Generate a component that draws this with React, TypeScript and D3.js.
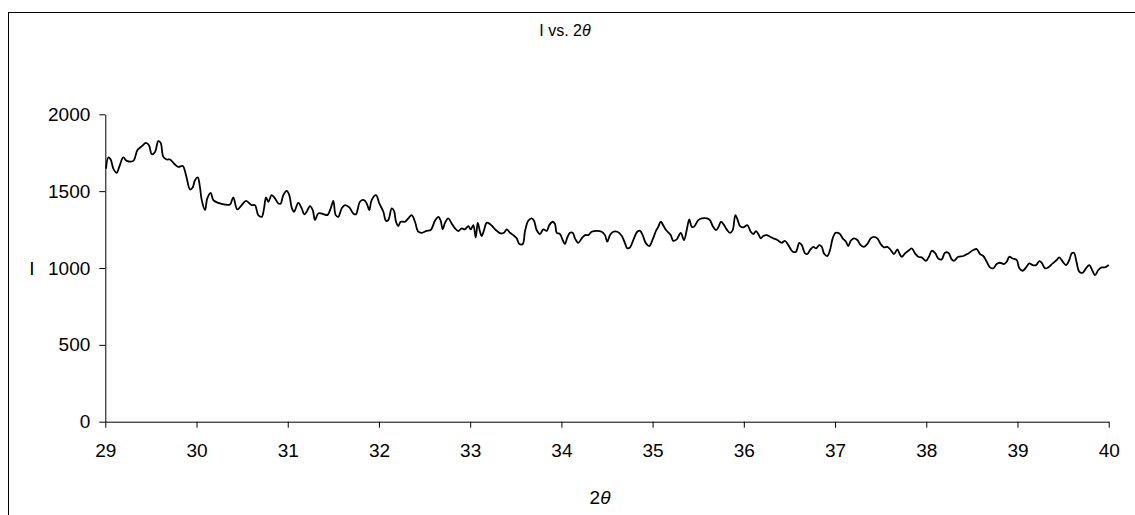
import React, { useEffect, useRef } from 'react';
import * as d3 from 'd3';

// 2theta (deg) and intensity
const twoTheta = [
  29.008, 29.033, 29.059, 29.088, 29.125, 29.153, 29.197, 29.235, 29.307, 29.351, 29.399, 29.446, 29.479, 29.509,
  29.545, 29.581, 29.607, 29.636, 29.673, 29.709, 29.753, 29.8, 29.849, 29.885, 29.929, 29.958, 29.983, 30.013,
  30.038, 30.057, 30.093, 30.118, 30.156, 30.184, 30.239, 30.312, 30.367, 30.403, 30.447, 30.495, 30.543, 30.605,
  30.641, 30.677, 30.715, 30.74, 30.762, 30.787, 30.824, 30.86, 30.897, 30.923, 30.951, 30.989, 31.017, 31.043,
  31.069, 31.116, 31.153, 31.182, 31.208, 31.244, 31.274, 31.299, 31.335, 31.39, 31.434, 31.471, 31.5, 31.526,
  31.554, 31.592, 31.628, 31.675, 31.719, 31.748, 31.792, 31.836, 31.866, 31.894, 31.92, 31.968, 32.004, 32.048,
  32.077, 32.102, 32.14, 32.165, 32.187, 32.212, 32.238, 32.286, 32.322, 32.359, 32.395, 32.431, 32.469, 32.523,
  32.567, 32.614, 32.651, 32.677, 32.699, 32.724, 32.76, 32.797, 32.834, 32.87, 32.907, 32.943, 32.979, 33.006,
  33.034, 33.061, 33.083, 33.108, 33.126, 33.152, 33.181, 33.217, 33.254, 33.291, 33.335, 33.371, 33.401, 33.437,
  33.473, 33.51, 33.539, 33.576, 33.601, 33.637, 33.675, 33.7, 33.729, 33.765, 33.802, 33.839, 33.867, 33.905,
  33.93, 33.949, 33.985, 34.014, 34.039, 34.065, 34.094, 34.124, 34.149, 34.185, 34.223, 34.259, 34.295, 34.332,
  34.387, 34.442, 34.478, 34.503, 34.533, 34.569, 34.613, 34.662, 34.698, 34.723, 34.753, 34.788, 34.832, 34.862,
  34.891, 34.927, 34.964, 35.001, 35.037, 35.062, 35.089, 35.125, 35.155, 35.198, 35.227, 35.264, 35.308, 35.344,
  35.374, 35.402, 35.429, 35.454, 35.501, 35.538, 35.622, 35.659, 35.695, 35.72, 35.75, 35.783, 35.812, 35.849,
  35.878, 35.907, 35.933, 35.958, 35.994, 36.038, 36.076, 36.104, 36.134, 36.159, 36.185, 36.213, 36.251, 36.287,
  36.323, 36.367, 36.415, 36.451, 36.488, 36.536, 36.572, 36.608, 36.635, 36.671, 36.696, 36.726, 36.762, 36.792,
  36.827, 36.854, 36.879, 36.915, 36.945, 36.974, 37.007, 37.047, 37.084, 37.12, 37.145, 37.172, 37.207, 37.244,
  37.281, 37.317, 37.354, 37.391, 37.427, 37.463, 37.5, 37.537, 37.573, 37.61, 37.646, 37.683, 37.705, 37.731,
  37.767, 37.803, 37.841, 37.877, 37.913, 37.95, 37.997, 38.033, 38.06, 38.096, 38.132, 38.169, 38.205, 38.242,
  38.279, 38.304, 38.351, 38.406, 38.461, 38.516, 38.553, 38.589, 38.625, 38.663, 38.699, 38.735, 38.772, 38.808,
  38.852, 38.882, 38.91, 38.948, 38.992, 39.02, 39.058, 39.094, 39.13, 39.167, 39.203, 39.24, 39.266, 39.302,
  39.338, 39.386, 39.43, 39.458, 39.496, 39.532, 39.568, 39.594, 39.619, 39.649, 39.677, 39.714, 39.751, 39.787,
  39.815, 39.85, 39.886, 39.923, 39.959, 40.0,
];

const intensity = [
  1647, 1719, 1706, 1647, 1619, 1658, 1719, 1697, 1697, 1766, 1792, 1814, 1799, 1740,
  1755, 1825, 1814, 1723, 1706, 1706, 1680, 1658, 1664, 1604, 1511, 1524, 1571, 1589,
  1524, 1442, 1377, 1453, 1489, 1442, 1424, 1413, 1413, 1459, 1381, 1409, 1437, 1409,
  1409, 1344, 1333, 1388, 1459, 1431, 1474, 1453, 1420, 1420, 1474, 1502, 1474, 1394,
  1366, 1424, 1388, 1349, 1366, 1403, 1377, 1312, 1355, 1351, 1344, 1388, 1437, 1344,
  1333, 1388, 1409, 1394, 1355, 1349, 1431, 1442, 1420, 1377, 1442, 1474, 1420, 1366,
  1307, 1312, 1388, 1372, 1301, 1273, 1301, 1301, 1323, 1344, 1301, 1236, 1229, 1242,
  1247, 1307, 1333, 1307, 1251, 1294, 1323, 1290, 1258, 1240, 1258, 1251, 1273, 1251,
  1279, 1199, 1294, 1236, 1208, 1247, 1294, 1286, 1264, 1242, 1225, 1229, 1251, 1229,
  1214, 1193, 1156, 1156, 1240, 1307, 1323, 1307, 1247, 1221, 1251, 1242, 1279, 1301,
  1286, 1229, 1221, 1182, 1156, 1199, 1229, 1229, 1193, 1164, 1193, 1214, 1214, 1236,
  1242, 1236, 1214, 1171, 1214, 1236, 1236, 1208, 1160, 1128, 1134, 1182, 1236, 1242,
  1214, 1160, 1143, 1186, 1242, 1268, 1301, 1268, 1242, 1214, 1177, 1186, 1229, 1182,
  1247, 1316, 1268, 1268, 1312, 1323, 1316, 1273, 1247, 1264, 1301, 1279, 1251, 1229,
  1247, 1344, 1312, 1273, 1264, 1279, 1236, 1221, 1240, 1221, 1193, 1208, 1214, 1203,
  1193, 1182, 1164, 1177, 1149, 1106, 1106, 1164, 1149, 1095, 1091, 1117, 1138, 1128,
  1149, 1138, 1095, 1078, 1117, 1193, 1229, 1225, 1193, 1171, 1143, 1177, 1193, 1182,
  1149, 1138, 1156, 1193, 1203, 1193, 1156, 1134, 1138, 1117, 1091, 1121, 1095, 1073,
  1095, 1112, 1128, 1095, 1073, 1069, 1047, 1078, 1112, 1099, 1062, 1056, 1099, 1099,
  1056, 1047, 1073, 1078, 1095, 1117, 1123, 1091, 1078, 1041, 1004, 998, 1026, 1034,
  1026, 1041, 1073, 1062, 1052, 998, 982, 1004, 1030, 1019, 1019, 1045, 1034, 998,
  1004, 1030, 1052, 1069, 1041, 1019, 1052, 1095, 1099, 1034, 976, 969, 998, 1019,
  991, 954, 987, 1004, 1004, 1019,
];

const xTicks = [29, 30, 31, 32, 33, 34, 35, 36, 37, 38, 39, 40];
const yTicks = [0, 500, 1000, 1500, 2000];

const App = () => {
  const svgRef = useRef<SVGSVGElement>(null);

  useEffect(() => {
    const svg = d3.select(svgRef.current);
    svg.selectAll('*').remove();

    const font = '"Liberation Sans", Arial, sans-serif';
    const left = 105.3, right = 1108.7, top = 114.3, bottom = 421.7;

    const x = d3.scaleLinear().domain([29, 40]).range([left, right]);
    const y = d3.scaleLinear().domain([0, 2000]).range([bottom, top]);

    // chart frame
    svg.append('rect')
      .attr('x', 8.5).attr('y', 12.5)
      .attr('width', 1200).attr('height', 600)
      .attr('fill', 'white').attr('stroke', 'black').attr('stroke-width', 1);

    const xAxis = svg.append('g')
      .attr('transform', `translate(0,${bottom})`)
      .call(d3.axisBottom(x).tickValues(xTicks).tickFormat(d3.format('d')).tickSize(6).tickSizeOuter(0).tickPadding(16));
    const yAxis = svg.append('g')
      .attr('transform', `translate(${left},0)`)
      .call(d3.axisLeft(y).tickValues(yTicks).tickFormat(d3.format('d')).tickSize(6).tickSizeOuter(0).tickPadding(9));

    [xAxis, yAxis].forEach(g => {
      g.selectAll('path, line').attr('stroke', 'black').attr('stroke-width', 1);
      g.selectAll('text').attr('font-family', font).attr('font-size', 19).attr('fill', 'black');
    });

    const line = d3.line<number>()
      .x((_, i) => x(twoTheta[i]))
      .y(d => y(d))
      .curve(d3.curveCatmullRom.alpha(0.5));

    svg.append('path')
      .datum(intensity)
      .attr('d', line)
      .attr('fill', 'none')
      .attr('stroke', 'black')
      .attr('stroke-width', 1.8)
      .attr('stroke-linejoin', 'round');

    // title
    const title = svg.append('text')
      .attr('x', 565).attr('y', 36)
      .attr('text-anchor', 'middle')
      .attr('font-family', font).attr('font-size', 16);
    title.append('tspan').text('I vs. 2');
    title.append('tspan').attr('font-style', 'italic').text('θ');

    // axis titles
    const xl = svg.append('text')
      .attr('x', 600).attr('y', 504)
      .attr('text-anchor', 'middle')
      .attr('font-family', font).attr('font-size', 19);
    xl.append('tspan').text('2');
    xl.append('tspan').attr('font-style', 'italic').text('θ');

    svg.append('text')
      .attr('x', 32).attr('y', y(1000) + 7)
      .attr('text-anchor', 'middle')
      .attr('font-family', font).attr('font-size', 19)
      .text('I');
  }, []);

  return (
    <svg ref={svgRef} width={1135} height={515}
      style={{ position: 'absolute', left: 0, top: 0, background: 'white' }} />
  );
};

export default App;
